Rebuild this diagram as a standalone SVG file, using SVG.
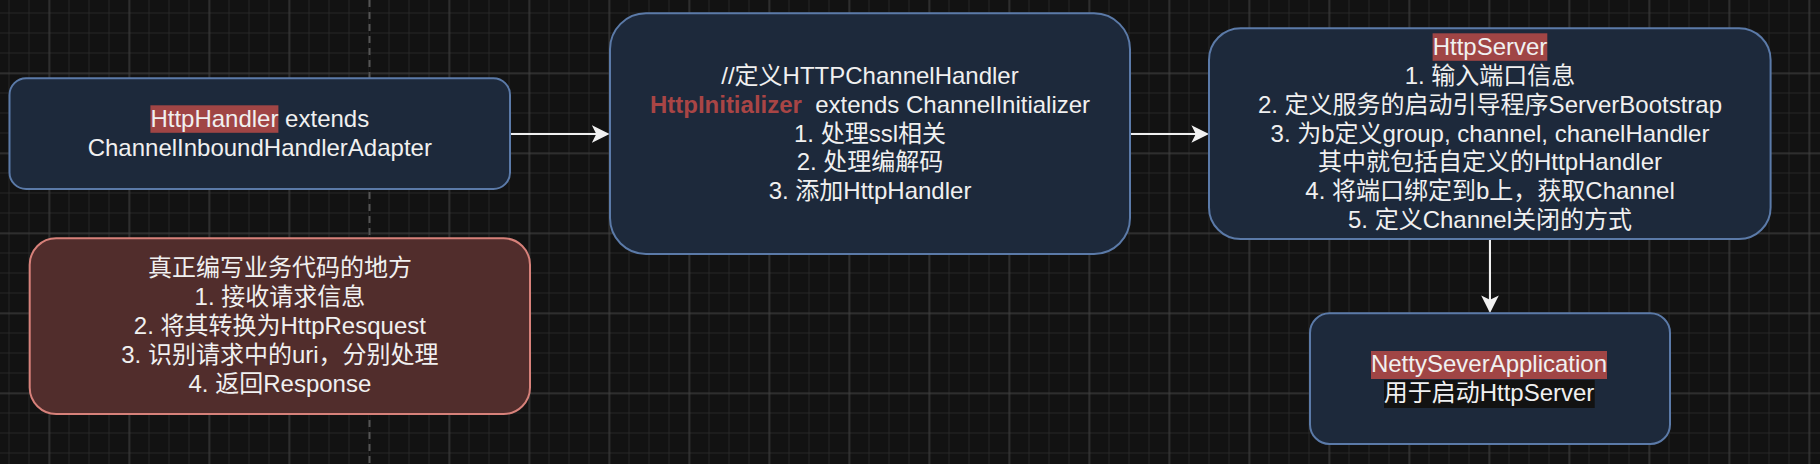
<svg xmlns="http://www.w3.org/2000/svg" width="1820" height="464" viewBox="0 0 1820 464">
<style>
.t{font-family:'Liberation Sans','Noto Sans CJK SC',sans-serif;font-size:24px;fill:#f0f0f0;text-anchor:middle}
.b{font-weight:bold;fill:#a94545}
.blue{fill:#1d293b;stroke:#5b7aa8;stroke-width:2}
.red{fill:#512d2c;stroke:#d7817a;stroke-width:2}
.hl{fill:#a04545}
.edge{fill:none;stroke:#f0f0f0;stroke-width:2}
</style>
<defs>
<pattern id="minor" width="20" height="20" patternUnits="userSpaceOnUse" x="-1" y="3">
<path d="M10 0V20M0 10H20" stroke="#262626" stroke-width="1" fill="none"/>
</pattern>
<pattern id="major" width="80" height="80" patternUnits="userSpaceOnUse" x="9.5" y="33.5">
<path d="M40 0V80M0 40H80" stroke="#404040" stroke-width="1" fill="none"/>
</pattern>
<marker id="arr" markerUnits="userSpaceOnUse" markerWidth="20" markerHeight="20" refX="9.6" refY="8.8" orient="auto">
<path d="M0 0L17.6 8.8L0 17.6L4.4 8.8Z" fill="#f0f0f0"/>
</marker>
</defs>
<rect width="1820" height="464" fill="#121212"/>
<rect width="1820" height="464" fill="url(#minor)"/>
<rect width="1820" height="464" fill="url(#major)"/>
<line x1="369.5" y1="0" x2="369.5" y2="464" stroke="#121212" stroke-width="2"/>
<line x1="369.5" y1="0" x2="369.5" y2="464" stroke="#555555" stroke-width="2" stroke-dasharray="7 5"/>

<g id="connectors">
<path class="edge" d="M510 134H601.5" marker-end="url(#arr)"/>
<path class="edge" d="M1130 134H1201" marker-end="url(#arr)"/>
<path class="edge" d="M1490 239V305" marker-end="url(#arr)"/>
</g>

<g id="httpHandler">
<rect class="blue" x="9.5" y="78.3" width="500.5" height="110.7" rx="16.6"/>
<rect class="hl" x="150.4" y="105.3" width="128" height="27.5"/>
<text class="t" x="259.8" y="127.1">HttpHandler extends</text>
<text class="t" x="259.8" y="155.9">ChannelInboundHandlerAdapter</text>
</g>

<g id="businessNote">
<rect class="red" x="29.7" y="238.3" width="500.3" height="175.7" rx="26.4"/>
<text class="t" x="279.9" y="276.4">真正编写业务代码的地方</text>
<text class="t" x="279.9" y="305.2">1. 接收请求信息</text>
<text class="t" x="279.9" y="334">2. 将其转换为HttpResquest</text>
<text class="t" x="279.9" y="362.8">3. 识别请求中的uri，分别处理</text>
<text class="t" x="279.9" y="391.6">4. 返回Response</text>
</g>

<g id="httpInitializer">
<rect class="blue" x="610" y="13.3" width="520" height="240.7" rx="36"/>
<text class="t" x="870" y="84">//定义HTTPChannelHandler</text>
<text class="t" x="870" y="112.8"><tspan class="b">HttpInitializer</tspan>&#160; extends ChannelInitializer</text>
<text class="t" x="870" y="141.6">1. 处理ssl相关</text>
<text class="t" x="870" y="170.4">2. 处理编解码</text>
<text class="t" x="870" y="199.2">3. 添加HttpHandler</text>
</g>

<g id="httpServer">
<rect class="blue" x="1209" y="28.3" width="561.6" height="210.7" rx="31.6"/>
<rect class="hl" x="1432.6" y="33.3" width="114.7" height="27.5"/>
<text class="t" x="1490" y="55.1">HttpServer</text>
<text class="t" x="1490" y="83.9">1. 输入端口信息</text>
<text class="t" x="1490" y="112.7">2. 定义服务的启动引导程序ServerBootstrap</text>
<text class="t" x="1490" y="141.5">3. 为b定义group, channel, chanelHandler</text>
<text class="t" x="1490" y="170.3">其中就包括自定义的HttpHandler</text>
<text class="t" x="1490" y="199.1">4. 将端口绑定到b上，获取Channel</text>
<text class="t" x="1490" y="227.9">5. 定义Channel关闭的方式</text>
</g>

<g id="nettyServerApplication">
<rect class="blue" x="1310" y="313.3" width="360" height="130.7" rx="19.6"/>
<rect class="hl" x="1371" y="351" width="236" height="28"/>
<rect fill="#121212" x="1384" y="380" width="210.7" height="28"/>
<text class="t" x="1489" y="372.1">NettySeverApplication</text>
<text class="t" x="1489" y="400.9">用于启动HttpServer</text>
</g>
</svg>
